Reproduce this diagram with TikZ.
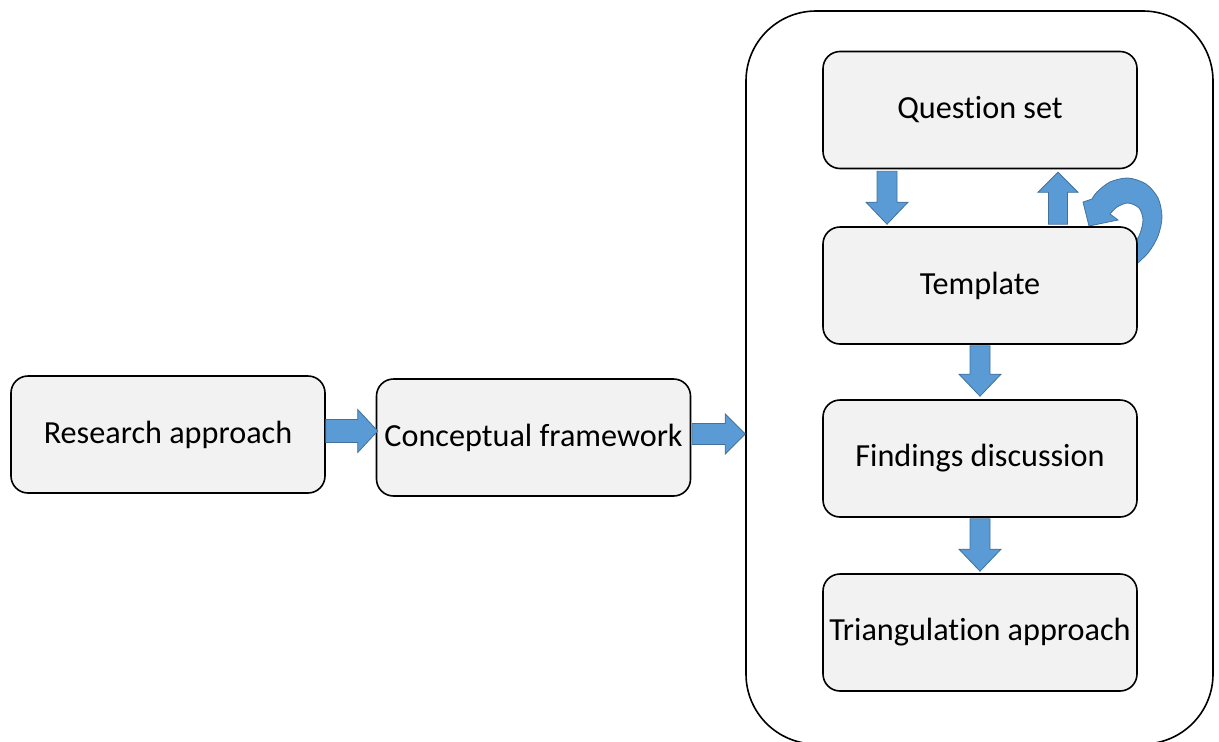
\documentclass[tikz,border=0pt]{standalone}
\usepackage{fontspec}
\setmainfont[Ligatures={NoCommon,NoContextual},Contextuals=NoAlternate]{Carlito}
\usetikzlibrary{calc}
\definecolor{arrowblue}{HTML}{5B9BD5}
\definecolor{arrowedge}{HTML}{41719C}
\definecolor{boxfill}{HTML}{F2F2F2}
\tikzset{
  box/.style={draw=black, line width=1.6pt, fill=boxfill, rounded corners=17pt,
    minimum width=314pt, minimum height=117pt, inner sep=0pt,
    font=\fontsize{32.2}{38}\selectfont},
  frame/.style={draw=black, line width=1.6pt, rounded corners=70pt},
  barrowstyle/.style={draw=arrowedge, line width=0.8pt, fill=arrowblue},
}
% block arrow: from, to, shaft half width, head half width, head length
\newcommand\blockarrow[5]{%
  \path[barrowstyle] let \p1=(#1), \p2=(#2),
    \n1={atan2(\y2-\y1,\x2-\x1)}, \n2={veclen(\x2-\x1,\y2-\y1)} in
    [shift={(\p1)}, rotate=\n1, x=1pt, y=1pt]
    (0,#3) -- ({\n2-#5},#3) -- ({\n2-#5},#4) -- (\n2,0) -- ({\n2-#5},-#4)
    -- ({\n2-#5},-#3) -- (0,-#3) -- cycle;}
\begin{document}
\begin{tikzpicture}[x=1pt, y=-1pt]
\useasboundingbox (0,0) rectangle (1219,742);
% outer frame
\node[frame, minimum width=467pt, minimum height=733pt, inner sep=0pt] (outer) at (979.5,377.5) {};
% curved (circular) arrow, behind the template box
\path[barrowstyle] plot[smooth] coordinates {(1130,270) (1148,253) (1158,236) (1162,217) (1158,198) (1146,184) (1128,178) (1110,182) (1097,192) (1092,199)}
  -- (1083,202) -- (1089,226) -- (1118,220) -- (1110,214)
  -- plot[smooth] coordinates {(1110,214) (1117,207) (1128,203) (1139,208) (1143,220) (1139,236) (1128,252)} -- cycle;
% boxes
\node[box] (ra) at (168,434.5) {Research approach};
\node[box] (cf) at (533.5,437.5) {Conceptual framework};
\node[box] (qs) at (980,110) {Question set};
\node[box] (tp) at (980,285.5) {Template};
\node[box] (fd) at (980,458.5) {Findings discussion};
\node[box] (ta) at (980,632.5) {Triangulation approach};
% block arrows
\coordinate (a1s) at ($(ra.east)+(0,-3.5)$);
\coordinate (a1e) at ($(cf.west)+(2,-6.5)$);
\blockarrow{a1s}{a1e}{11.5}{21.5}{20}
\coordinate (a2s) at ($(cf.east)+(1,-3.5)$);
\coordinate (a2e) at (outer.west |- a2s);
\blockarrow{a2s}{a2e}{10.5}{20}{20}
\coordinate (a3s) at ($(qs.south)+(-93,2)$);
\coordinate (a3e) at ($(tp.north)+(-93,-2)$);
\blockarrow{a3s}{a3e}{10}{21}{22}
\coordinate (a4s) at ($(tp.north)+(78,-2)$);
\coordinate (a4e) at ($(qs.south)+(78,3)$);
\blockarrow{a4s}{a4e}{9.5}{20}{20}
\coordinate (a5s) at ($(tp.south)+(0,1)$);
\coordinate (a5e) at ($(fd.north)+(0,-3)$);
\blockarrow{a5s}{a5e}{10}{21}{22}
\coordinate (a6s) at ($(fd.south)+(0,1)$);
\coordinate (a6e) at ($(ta.north)+(0,-2)$);
\blockarrow{a6s}{a6e}{10}{21}{22}
\end{tikzpicture}
\end{document}
